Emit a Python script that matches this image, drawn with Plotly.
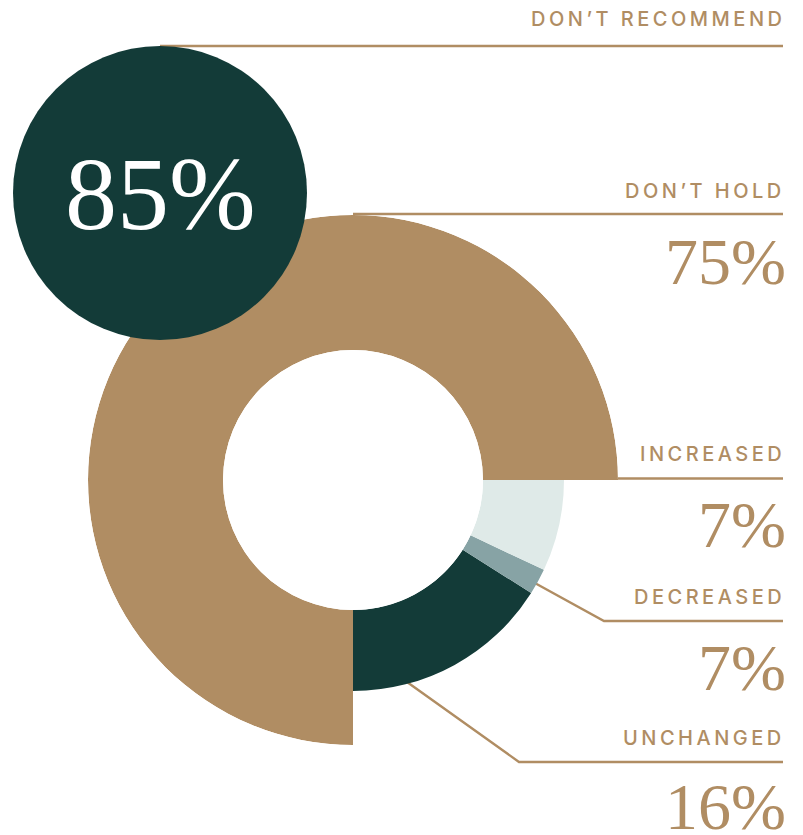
import plotly.graph_objects as go

# ---------------- data ----------------
slice_names = ["Don’t hold", "Unchanged", "Decreased", "Increased"]
slice_values = [75, 16, 2, 7]           # share of the ring (counter-clockwise from 3 o'clock)
headline_value = "85%"
headline_label = "DON’T RECOMMEND"
label_texts = ["DON’T HOLD", "INCREASED", "DECREASED", "UNCHANGED"]
label_values = ["75%", "7%", "7%", "16%"]

# ---------------- styles ----------------
TAN = "#b08d63"
DARK = "#133b38"
LIGHT = "#dfeae8"
GREY = "#87a3a5"
slice_colors = [TAN, DARK, GREY, LIGHT]
W, H = 803, 835
SANS = "Inter, Roboto, sans-serif"
SERIF = "Liberation Serif, serif"

fig = go.Figure()

# ring built from bar-polar wedges
thetas, widths = [], []
start = 0.0
for v in slice_values:
    w = v * 3.6
    thetas.append(start + w / 2)
    widths.append(w)
    start += w
radii = [135 if i == 0 else 81 for i in range(len(slice_values))]
fig.add_trace(go.Barpolar(
    r=radii, theta=thetas, width=widths, base=0,
    marker=dict(color=slice_colors, line=dict(width=0)),
    hovertext=slice_names, hoverinfo="text", showlegend=False,
))

# headline circle as a single-slice pie
fig.add_trace(go.Pie(
    values=[1], labels=[headline_label], marker=dict(colors=[DARK], line=dict(width=0)),
    textinfo="none", hoverinfo="skip", sort=False, showlegend=False,
    domain=dict(x=[13 / W, 307 / W], y=[(H - 340) / H, (H - 46) / H]),
))

# leader lines on a hidden pixel-space axis
line_paths = [
    ([160, 783], [46, 46]),
    ([353, 783], [214, 214]),
    ([618, 783], [478.5, 478.5]),
    ([533, 604, 783], [582, 621, 621]),
    ([407, 519, 783], [682, 762, 762]),
]
for xs, ys in line_paths:
    fig.add_trace(go.Scatter(x=xs, y=ys, mode="lines", line=dict(color=TAN, width=2.4),
                             hoverinfo="skip", showlegend=False))

fig.update_layout(
    width=W, height=H, margin=dict(l=0, r=0, t=0, b=0),
    paper_bgcolor="white", plot_bgcolor="rgba(0,0,0,0)",
    xaxis=dict(range=[0, W], visible=False, domain=[0, 1], fixedrange=True),
    yaxis=dict(range=[H, 0], visible=False, domain=[0, 1], fixedrange=True),
    polar=dict(
        domain=dict(x=[88 / W, 618 / W], y=[90 / H, 620 / H]),
        hole=130 / 265, bgcolor="rgba(0,0,0,0)", bargap=0,
        angularaxis=dict(rotation=0, direction="counterclockwise", visible=False,
                         showgrid=False, showline=False, ticks=""),
        radialaxis=dict(range=[0, 135], visible=False, showgrid=False, showline=False, ticks=""),
    ),
)

def spaced(t):
    return '<span style="letter-spacing:3.5px">' + t + '</span>'

annos = []
annos.append(dict(x=787, y=19, text=spaced(headline_label),
                  font=dict(family=SANS, size=20, color=TAN, weight=500),
                  xanchor="right", yanchor="middle"))
annos.append(dict(x=160, y=193, text=headline_value, font=dict(family=SERIF, size=104, color="white"),
                  xanchor="center", yanchor="middle"))
label_y = [191, 453.5, 597, 738]
value_y = [261, 524, 667.5, 806]
for t, v, ly, vy in zip(label_texts, label_values, label_y, value_y):
    annos.append(dict(x=787, y=ly, text=spaced(t),
                      font=dict(family=SANS, size=20, color=TAN, weight=500),
                      xanchor="right", yanchor="middle"))
    annos.append(dict(x=788, y=vy, text=v, font=dict(family=SERIF, size=66, color=TAN),
                      xanchor="right", yanchor="middle"))
for a in annos:
    a.update(xref="x", yref="y", showarrow=False)
fig.update_layout(annotations=annos)

fig.write_html("out.html")
